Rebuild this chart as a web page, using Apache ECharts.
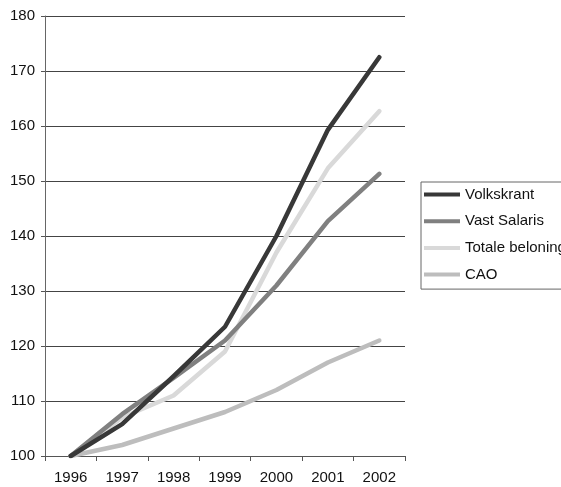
<!DOCTYPE html>
<html>
<head>
<meta charset="utf-8">
<script src="https://cdn.jsdelivr.net/npm/echarts@6/dist/echarts.min.js"></script>
<style>
html,body{margin:0;padding:0;background:#fff;}
#c{width:561px;height:487px;}
</style>
</head>
<body>
<div id="c"></div>
<script>
var years = ['1996','1997','1998','1999','2000','2001','2002'];
var volkskrant = [100, 105.8, 114.5, 123.5, 140, 159.3, 172.5];
var vastSalaris = [100, 107.6, 114.2, 121, 131, 142.7, 151.3];
var totaleBeloning = [100, 107, 111, 119, 137, 152.3, 162.7];
var cao = [100, 102, 105, 108, 112, 117, 121];
var seriesNames = ['Volkskrant', 'Vast Salaris', 'Totale beloning', 'CAO'];
var seriesColors = ['#383838', '#808080', '#d9d9d9', '#bdbdbd'];
var seriesData = [volkskrant, vastSalaris, totaleBeloning, cao];

var chart = echarts.init(document.getElementById('c'));
var font = 'Liberation Sans, Arial, sans-serif';
chart.setOption({
  animation: false,
  backgroundColor: '#fff',
  grid: {left: 45, right: 156, top: 16, bottom: 31, containLabel: false},
  legend: {
    orient: 'vertical',
    left: 421, top: 182,
    padding: [5, 5, 7, 3],
    itemGap: 11.7,
    itemWidth: 36,
    itemHeight: 4,
    icon: 'rect',
    borderColor: '#666',
    borderWidth: 1,
    borderRadius: 0,
    textStyle: {fontFamily: font, fontSize: 15, color: '#111'},
    data: seriesNames
  },
  xAxis: {
    type: 'category',
    data: years,
    boundaryGap: true,
    axisLine: {lineStyle: {color: '#555', width: 1}},
    axisTick: {show: true, length: 5, lineStyle: {color: '#555'}},
    axisLabel: {fontFamily: font, fontSize: 15, color: '#111', margin: 14},
    splitLine: {show: false}
  },
  yAxis: {
    type: 'value',
    min: 100, max: 180, interval: 10,
    axisLine: {show: true, lineStyle: {color: '#666', width: 1}},
    axisTick: {show: true, length: 4, lineStyle: {color: '#555'}},
    axisLabel: {fontFamily: font, fontSize: 15, color: '#111', margin: 10},
    splitLine: {show: true, lineStyle: {color: '#444', width: 1}}
  },
  series: seriesNames.map(function (n, i) {
    return {
      name: n,
      type: 'line',
      data: seriesData[i],
      symbol: 'none',
      lineStyle: {width: 4.5, color: seriesColors[i], cap: 'round', join: 'round'},
      itemStyle: {color: seriesColors[i]},
      z: 10 - i
    };
  })
});
</script>
</body>
</html>
